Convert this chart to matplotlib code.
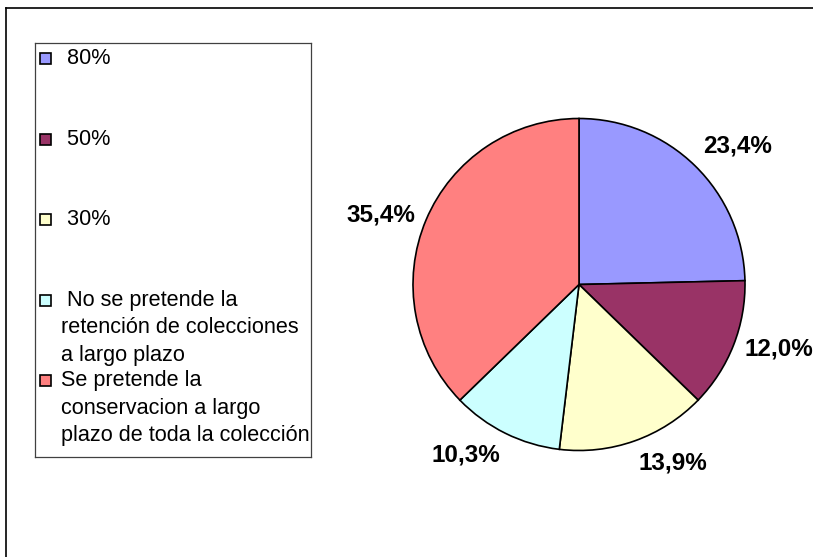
import numpy as np
import matplotlib
matplotlib.use("Agg")
import matplotlib.pyplot as plt
from matplotlib.lines import Line2D
from matplotlib.patches import Rectangle

# data
values = [23.4, 12.0, 13.9, 10.3, 35.4]
value_labels = ["23,4%", "12,0%", "13,9%", "10,3%", "35,4%"]
legend_labels = [
    " 80%",
    " 50%",
    " 30%",
    " No se pretende la\nretención de colecciones\na largo plazo",
    "Se pretende la\nconservacion a largo\nplazo de toda la colección",
]
colors = ["#9999FF", "#993366", "#FFFFCC", "#CCFFFF", "#FF8080"]

plt.rcParams['font.family'] = ['Liberation Sans', 'DejaVu Sans']

W, H = 813, 557
fig = plt.figure(figsize=(W / 100, H / 100), dpi=100)

def px_axes(x0, y0, w, h):
    # axes placed by pixel box (top-left origin)
    return fig.add_axes([x0 / W, 1 - (y0 + h) / H, w / W, h / H])

# outer frame: only top and left edges are visible
fig.add_artist(Line2D([6 / W, 6 / W], [0, 1 - 8 / H], transform=fig.transFigure,
                      color="black", lw=1.2))
fig.add_artist(Line2D([6 / W, 1], [1 - 8 / H, 1 - 8 / H], transform=fig.transFigure,
                      color="black", lw=1.2))

# pie
cx, cy, r = 579, 284.5, 166
ax = px_axes(cx - r, cy - r, 2 * r, 2 * r)
wedges, _ = ax.pie(values, colors=colors, startangle=90, counterclock=False,
                   wedgeprops=dict(edgecolor="black", linewidth=1.2))
ax.set_xlim(-1, 1)
ax.set_ylim(-1, 1)
ax.set_aspect("equal")
ax.axis("off")

for w, lab in zip(wedges, value_labels):
    ang = np.deg2rad((w.theta1 + w.theta2) / 2)
    x, y = 1.07 * np.cos(ang), 1.07 * np.sin(ang)
    if abs(y) < 0.45:
        va = "center"
    else:
        va = "bottom" if y > 0 else "top"
    ax.text(x, y, lab, ha="left" if x > 0 else "right", va=va,
            fontsize=17.5, fontweight="bold", clip_on=False)

# legend box drawn by hand so entries keep the even spacing of the original
lx, ly, lw, lh = 35, 43, 276, 414
lax = px_axes(lx, ly, lw, lh)
lax.set_xlim(0, lw)
lax.set_ylim(lh, 0)
lax.set_xticks([])
lax.set_yticks([])
for s in lax.spines.values():
    s.set_color("#404040")
    s.set_linewidth(0.9)

line_h = 27.5
for i, (lab, c) in enumerate(zip(legend_labels, colors)):
    base = 21 + i * 80.6
    lax.add_patch(Rectangle((5, base - 11), 11, 11, facecolor=c,
                            edgecolor="black", lw=1.2))
    for k, part in enumerate(lab.split("\n")):
        lax.text(26, base + k * line_h, part, ha="left", va="baseline",
                 fontsize=15.6)

fig.savefig("out.png", dpi=100)
